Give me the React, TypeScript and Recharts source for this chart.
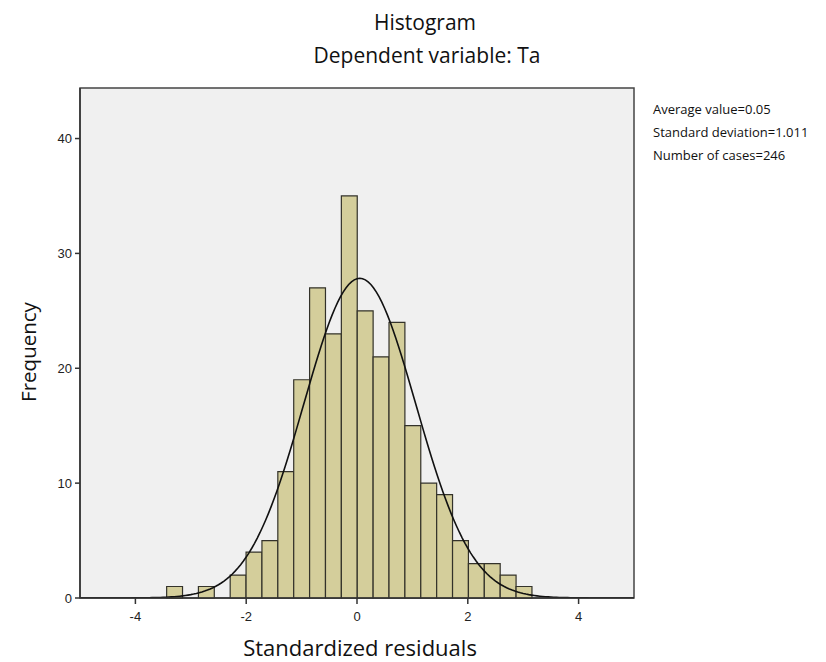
import { ComposedChart, XAxis, YAxis, Line, ReferenceArea } from 'recharts'

// Histogram bins of the standardized residuals
const binStart = -3.436
const binWidth = 0.2867
const counts = [1, 0, 1, 0, 2, 4, 5, 11, 19, 27, 23, 35, 25, 21, 24, 15, 10, 9, 5, 3, 3, 2, 1]

// Summary statistics printed beside the plot
const mean = 0.05
const stdDev = 1.011
const nCases = 246

const xTicks = [-4, -2, 0, 2, 4]
const yTicks = [0, 10, 20, 30, 40]
const xDomain: [number, number] = [-5, 5]
const yDomain: [number, number] = [0, 44.4]

const statLines = [
  `Average value=${mean}`,
  `Standard deviation=${stdDev}`,
  `Number of cases=${nCases}`,
]

// Normal curve fitted from the stats above, scaled to bin counts
const curve: { x: number; y: number }[] = []
for (let i = 0; i <= 200; i++) {
  const x = xDomain[0] + i * 0.05
  const z = (x - mean) / stdDev
  const y = (nCases * binWidth * Math.exp(-0.5 * z * z)) / (stdDev * Math.sqrt(2 * Math.PI))
  curve.push({ x, y })
}

const W = 818
const H = 654
const sans = '"Open Sans", "Noto Sans", sans-serif'
const tickStyle = { fontSize: 13, fill: '#222', fontFamily: '"Liberation Sans", Arial, sans-serif' }

export default function App() {
  return (
    <div style={{ position: 'relative', width: W, height: H, background: '#fff' }}>
      <ComposedChart
        width={W}
        height={H}
        data={curve}
        margin={{ top: 80, right: 192, bottom: 34, left: 42 }}
      >
        <XAxis
          dataKey="x"
          type="number"
          domain={xDomain}
          ticks={xTicks}
          allowDataOverflow
          height={30}
          tickSize={6}
          tickMargin={8}
          tick={tickStyle}
          axisLine={{ stroke: '#333', strokeWidth: 1.5 }}
          tickLine={{ stroke: '#333', strokeWidth: 1.5 }}
        />
        <YAxis
          type="number"
          domain={yDomain}
          ticks={yTicks}
          allowDataOverflow
          width={30}
          tickSize={5}
          tickMargin={3}
          tick={tickStyle}
          axisLine={{ stroke: '#333', strokeWidth: 1.5 }}
          tickLine={{ stroke: '#333', strokeWidth: 1.5 }}
        />
        {/* plot background and frame */}
        <ReferenceArea
          x1={xDomain[0]}
          x2={xDomain[1]}
          y1={yDomain[0]}
          y2={yDomain[1]}
          fill="#f0f0f0"
          fillOpacity={1}
          stroke="#444"
          strokeWidth={1.5}
        />
        {counts.map((c, i) =>
          c > 0 ? (
            <ReferenceArea
              key={i}
              x1={binStart + i * binWidth}
              x2={binStart + (i + 1) * binWidth}
              y1={0}
              y2={c}
              fill="#d4ce9b"
              fillOpacity={1}
              stroke="#33322a"
              strokeWidth={1.2}
            />
          ) : null
        )}
        <Line
          dataKey="y"
          type="linear"
          stroke="#111"
          strokeWidth={1.6}
          dot={false}
          activeDot={false}
          isAnimationActive={false}
        />
      </ComposedChart>
      <svg
        width={W}
        height={H}
        style={{ position: 'absolute', left: 0, top: 0, pointerEvents: 'none' }}
      >
        <text x={417} y={22} textAnchor="middle" fontSize={21} fontFamily={sans} fill="#111">
          Histogram
        </text>
        <text x={419} y={55} textAnchor="middle" fontSize={21} fontFamily={sans} fill="#111">
          Dependent variable: Ta
        </text>
        {statLines.map((s, i) => (
          <text key={s} x={645} y={106 + i * 23} fontSize={13} fontFamily={sans} fill="#111">
            {s}
          </text>
        ))}
        <text
          x={0}
          y={0}
          transform="translate(28, 344) rotate(-90)"
          textAnchor="middle"
          fontSize={20.5}
          fontFamily={sans}
          fill="#111"
        >
          Frequency
        </text>
        <text x={352} y={648} textAnchor="middle" fontSize={22} fontFamily={sans} fill="#111">
          Standardized residuals
        </text>
      </svg>
    </div>
  )
}
